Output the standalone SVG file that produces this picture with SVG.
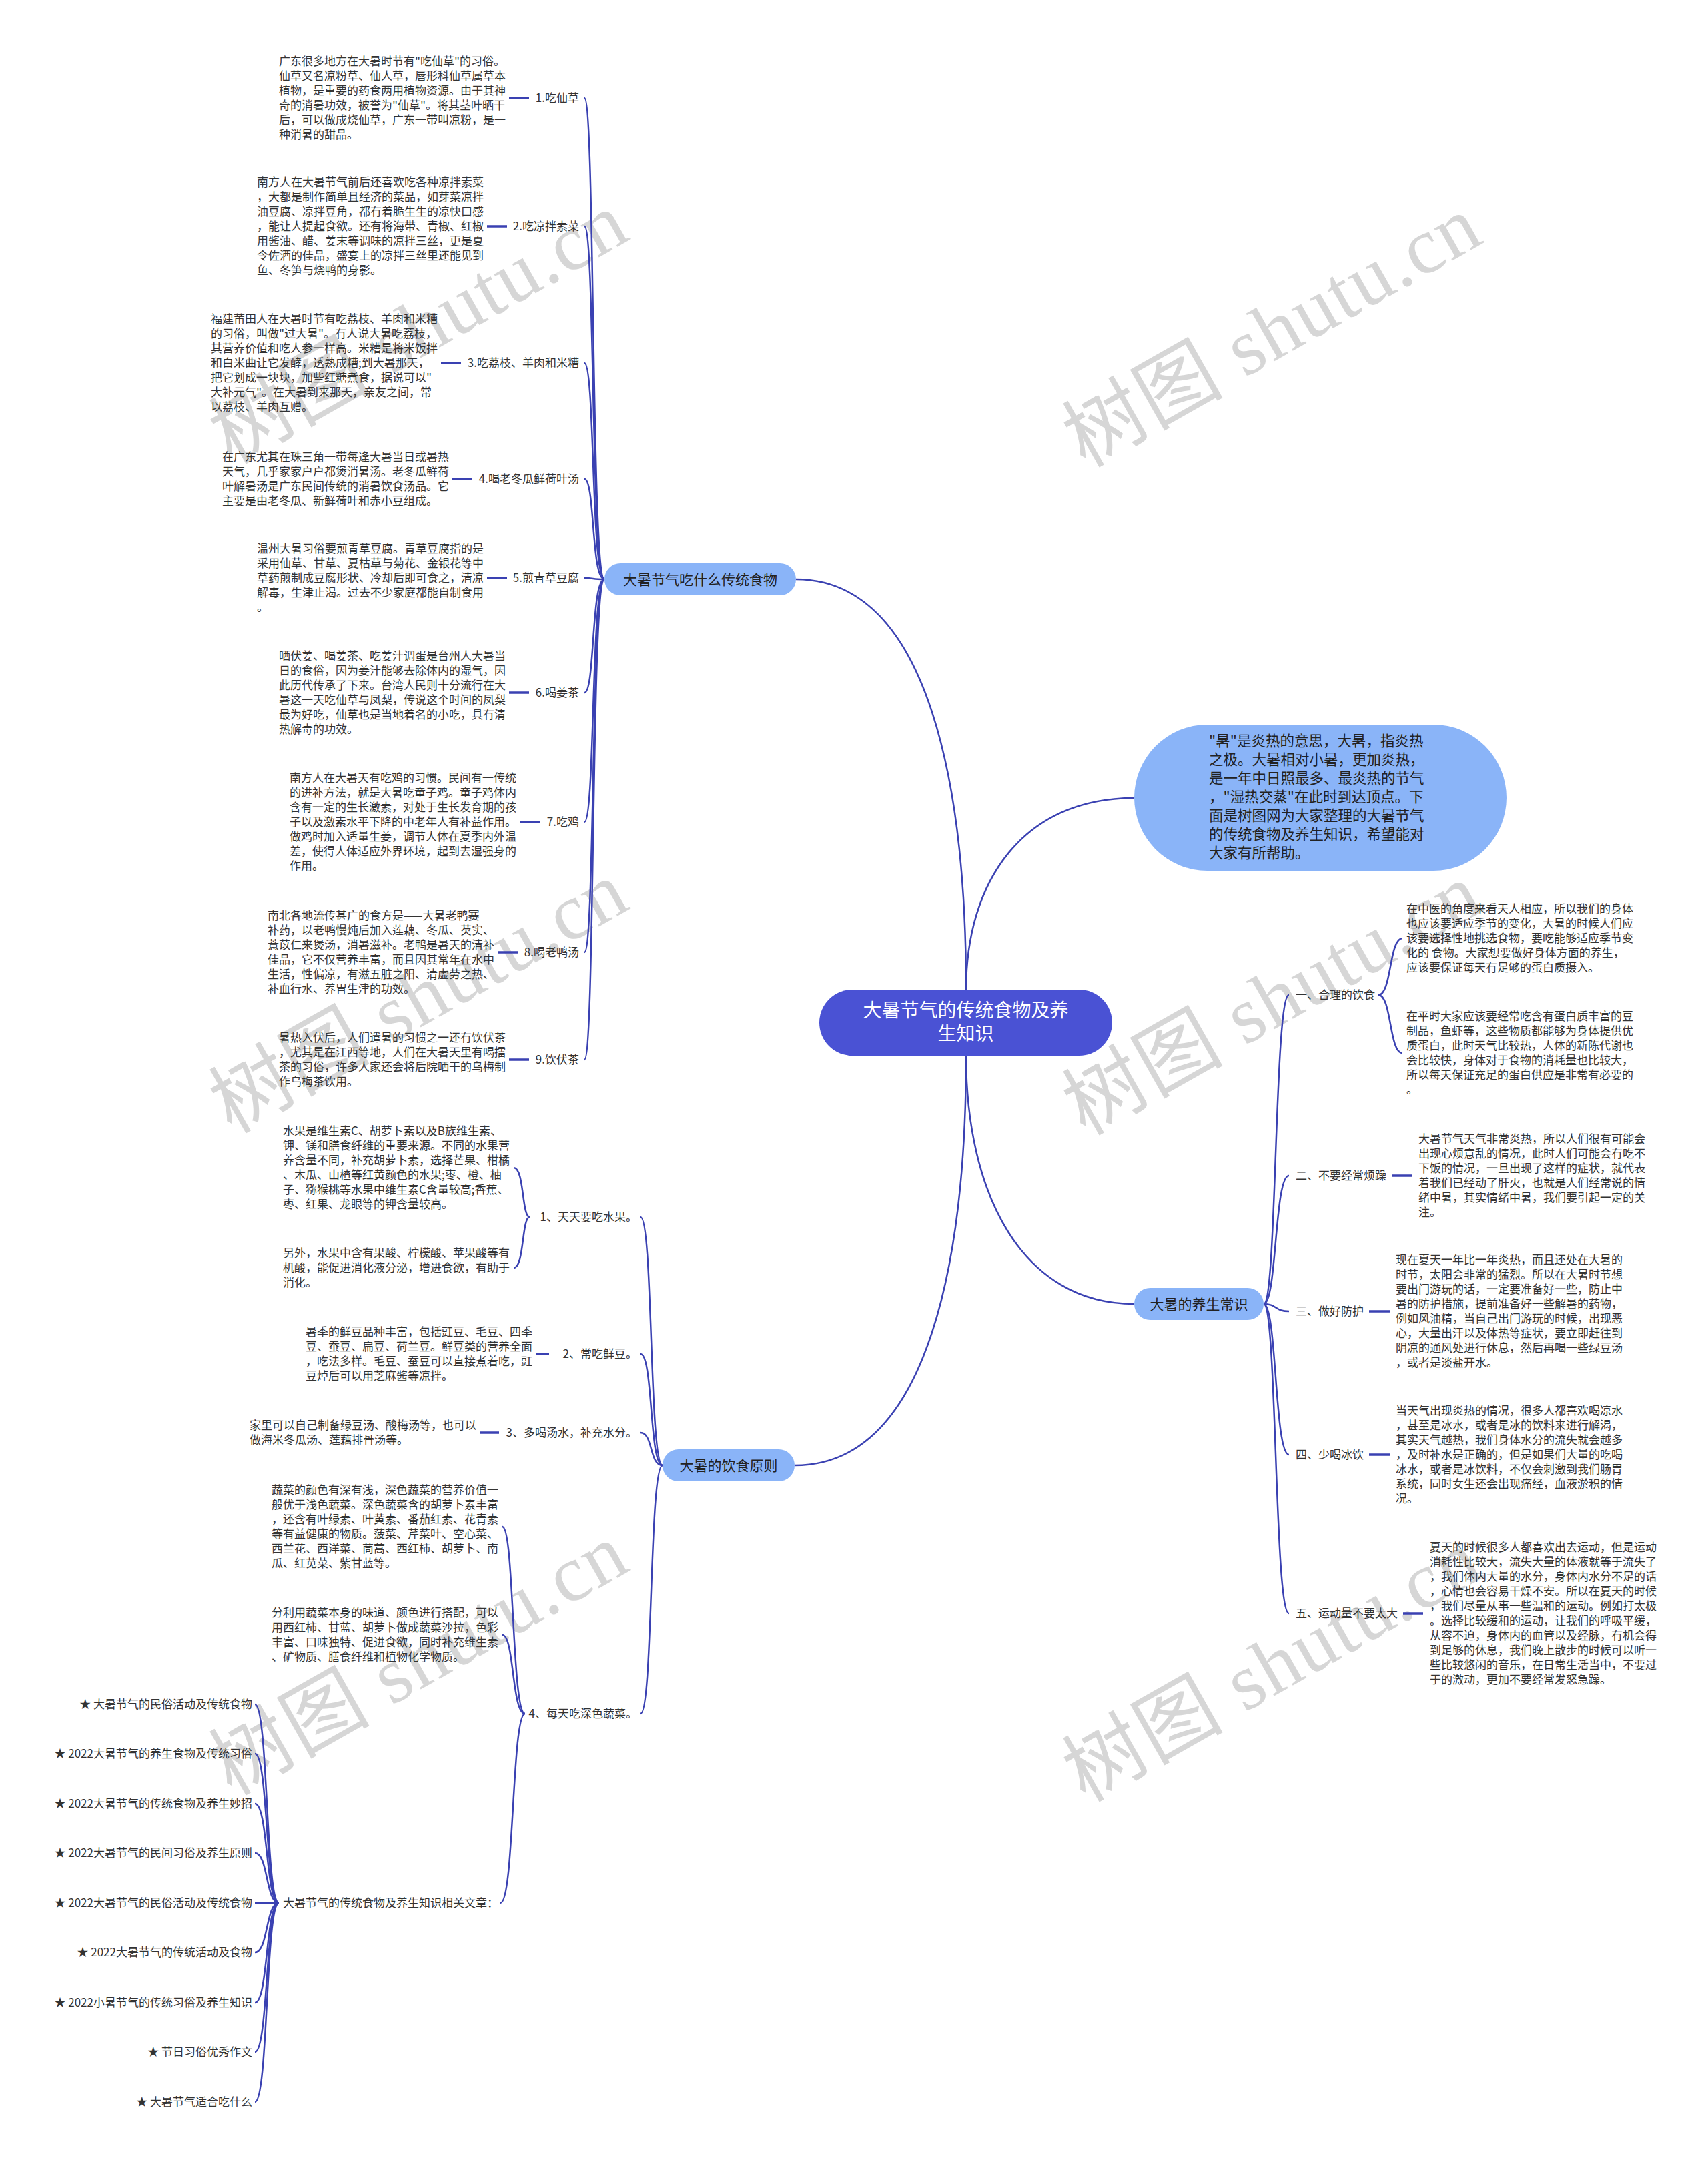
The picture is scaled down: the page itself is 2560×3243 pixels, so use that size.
<svg xmlns="http://www.w3.org/2000/svg" width="2560" height="3243" viewBox="0 0 2560 3243">
<style>
text{font-family:"Noto Sans CJK SC","Noto Sans",sans-serif;fill:#333}
.t{font-size:17px}
.l{font-size:17px}
.le{font-size:17px;text-anchor:end}
.c{fill:none;stroke:#3a41b2;stroke-width:2.5}
.s{stroke:#3a41b2;stroke-width:3.5}
.bn{fill:#8ab4f8}
.bt{font-size:21px;text-anchor:middle;fill:#222}
.wm{font-family:"Liberation Serif","Noto Sans CJK SC",serif;font-size:120px;fill:#d6d6d6}
</style>
<rect width="2560" height="3243" fill="#fff"/>
<g id="watermarks">
<text class="wm" transform="translate(347 697) rotate(-29.5)" textLength="690" lengthAdjust="spacing">树图 shutu.cn</text>
<text class="wm" transform="translate(1626 702) rotate(-29.5)" textLength="690" lengthAdjust="spacing">树图 shutu.cn</text>
<text class="wm" transform="translate(347 1700) rotate(-29.5)" textLength="690" lengthAdjust="spacing">树图 shutu.cn</text>
<text class="wm" transform="translate(1626 1703) rotate(-29.5)" textLength="690" lengthAdjust="spacing">树图 shutu.cn</text>
<text class="wm" transform="translate(347 2692) rotate(-29.5)" textLength="690" lengthAdjust="spacing">树图 shutu.cn</text>
<text class="wm" transform="translate(1626 2702) rotate(-29.5)" textLength="690" lengthAdjust="spacing">树图 shutu.cn</text>
</g>
<g id="connectors">
<path class="c" d="M1448 1483C1448 1194 1397 868 1193 868"/>
<path class="c" d="M1448 1483C1448 1322 1532 1196 1700 1196"/>
<path class="c" d="M1448 1582C1448 1871 1397 2196 1191 2196"/>
<path class="c" d="M1448 1582C1448 1790 1532 1954 1700 1954"/>
<path class="c" d="M906 868C886 868 892 147 876 147"/>
<path class="c" d="M906 868C886 868 892 339 876 339"/>
<path class="c" d="M906 868C886 868 892 544 876 544"/>
<path class="c" d="M906 868C886 868 892 718 876 718"/>
<path class="c" d="M906 868C886 868 892 866 876 866"/>
<path class="c" d="M906 868C886 868 892 1038 876 1038"/>
<path class="c" d="M906 868C886 868 892 1232 876 1232"/>
<path class="c" d="M906 868C886 868 892 1427 876 1427"/>
<path class="c" d="M906 868C886 868 892 1588 876 1588"/>
<line class="s" x1="763" y1="147" x2="793" y2="147"/>
<line class="s" x1="730" y1="339" x2="760" y2="339"/>
<line class="s" x1="661" y1="544" x2="691" y2="544"/>
<line class="s" x1="678" y1="718" x2="708" y2="718"/>
<line class="s" x1="730" y1="866" x2="760" y2="866"/>
<line class="s" x1="763" y1="1038" x2="793" y2="1038"/>
<line class="s" x1="779" y1="1232" x2="809" y2="1232"/>
<line class="s" x1="746" y1="1427" x2="776" y2="1427"/>
<line class="s" x1="763" y1="1588" x2="793" y2="1588"/>
<path class="c" d="M993 2196C973 2196 979 1824 960 1824"/>
<path class="c" d="M993 2196C973 2196 979 2029 960 2029"/>
<path class="c" d="M993 2196C973 2196 979 2147 960 2147"/>
<path class="c" d="M993 2196C973 2196 979 2568 960 2568"/>
<path class="c" d="M794 1824C782 1824 786 1750 770 1750"/>
<path class="c" d="M794 1824C782 1824 786 1900 770 1900"/>
<line class="s" x1="803" y1="2029" x2="823" y2="2029"/>
<line class="s" x1="719" y1="2147" x2="748" y2="2147"/>
<path class="c" d="M787 2568C767 2568 771 2288 753 2288"/>
<path class="c" d="M787 2568C767 2568 771 2450 753 2450"/>
<path class="c" d="M787 2568C767 2568 771 2852 750 2852"/>
<path class="c" d="M418 2852C398 2852 402 2554 382 2554"/>
<path class="c" d="M418 2852C398 2852 402 2628 382 2628"/>
<path class="c" d="M418 2852C398 2852 402 2703 382 2703"/>
<path class="c" d="M418 2852C398 2852 402 2777 382 2777"/>
<path class="c" d="M418 2852C398 2852 402 2852 382 2852"/>
<path class="c" d="M418 2852C398 2852 402 2926 382 2926"/>
<path class="c" d="M418 2852C398 2852 402 3001 382 3001"/>
<path class="c" d="M418 2852C398 2852 402 3075 382 3075"/>
<path class="c" d="M418 2852C398 2852 402 3150 382 3150"/>
<path class="c" d="M1894 1954C1914 1954 1910 1491 1932 1491"/>
<path class="c" d="M1894 1954C1914 1954 1910 1762 1932 1762"/>
<path class="c" d="M1894 1954C1914 1954 1910 1965 1932 1965"/>
<path class="c" d="M1894 1954C1914 1954 1910 2180 1932 2180"/>
<path class="c" d="M1894 1954C1914 1954 1910 2418 1932 2418"/>
<path class="c" d="M2066 1491C2086 1491 2082 1406 2102 1406"/>
<path class="c" d="M2066 1491C2086 1491 2082 1578 2102 1578"/>
<line class="s" x1="2087" y1="1762" x2="2117" y2="1762"/>
<line class="s" x1="2052" y1="1965" x2="2083" y2="1965"/>
<line class="s" x1="2052" y1="2180" x2="2083" y2="2180"/>
<line class="s" x1="2103" y1="2418" x2="2133" y2="2418"/>
</g>
<g id="center">
<rect x="1228" y="1483" width="439" height="99" rx="49.5" fill="#4a52d4"/>
<text x="1447.5" y="1524" style="font-size:28px;fill:#fff;text-anchor:middle">大暑节气的传统食物及养</text>
<text x="1447.5" y="1559" style="font-size:28px;fill:#fff;text-anchor:middle">生知识</text>
</g>
<g id="intro">
<rect class="bn" x="1700" y="1086" width="558" height="219" rx="109.5"/>
<text x="1812" y="1118" style="font-size:21.5px;fill:#222"><tspan x="1812">"暑"是炎热的意思，大暑，指炎热</tspan><tspan x="1812" dy="28">之极。大暑相对小暑，更加炎热，</tspan><tspan x="1812" dy="28">是一年中日照最多、最炎热的节气</tspan><tspan x="1812" dy="28">，"湿热交蒸"在此时到达顶点。下</tspan><tspan x="1812" dy="28">面是树图网为大家整理的大暑节气</tspan><tspan x="1812" dy="28">的传统食物及养生知识，希望能对</tspan><tspan x="1812" dy="28">大家有所帮助。</tspan></text>
</g>
<g id="b1">
<rect class="bn" x="906" y="844" width="287" height="48" rx="24"/>
<text class="bt" x="1049.5" y="875.5">大暑节气吃什么传统食物</text>
</g>
<g id="b1-1">
<text class="le" x="868" y="153">1.吃仙草</text>
<text class="t" x="418" y="98"><tspan x="418">广东很多地方在大暑时节有"吃仙草"的习俗。</tspan><tspan x="418" dy="22">仙草又名凉粉草、仙人草，唇形科仙草属草本</tspan><tspan x="418" dy="22">植物，是重要的药食两用植物资源。由于其神</tspan><tspan x="418" dy="22">奇的消暑功效，被誉为"仙草"。将其茎叶晒干</tspan><tspan x="418" dy="22">后，可以做成烧仙草，广东一带叫凉粉，是一</tspan><tspan x="418" dy="22">种消暑的甜品。</tspan></text>
</g>
<g id="b1-2">
<text class="le" x="868" y="345">2.吃凉拌素菜</text>
<text class="t" x="385" y="279"><tspan x="385">南方人在大暑节气前后还喜欢吃各种凉拌素菜</tspan><tspan x="385" dy="22">，大都是制作简单且经济的菜品，如芽菜凉拌</tspan><tspan x="385" dy="22">油豆腐、凉拌豆角，都有着脆生生的凉快口感</tspan><tspan x="385" dy="22">，能让人提起食欲。还有将海带、青椒、红椒</tspan><tspan x="385" dy="22">用酱油、醋、姜末等调味的凉拌三丝，更是夏</tspan><tspan x="385" dy="22">令佐酒的佳品，盛宴上的凉拌三丝里还能见到</tspan><tspan x="385" dy="22">鱼、冬笋与烧鸭的身影。</tspan></text>
</g>
<g id="b1-3">
<text class="le" x="868" y="550">3.吃荔枝、羊肉和米糟</text>
<text class="t" x="316" y="484"><tspan x="316">福建莆田人在大暑时节有吃荔枝、羊肉和米糟</tspan><tspan x="316" dy="22">的习俗，叫做"过大暑"。有人说大暑吃荔枝，</tspan><tspan x="316" dy="22">其营养价值和吃人参一样高。米糟是将米饭拌</tspan><tspan x="316" dy="22">和白米曲让它发酵，透熟成糟;到大暑那天，</tspan><tspan x="316" dy="22">把它划成一块块，加些红糖煮食，据说可以"</tspan><tspan x="316" dy="22">大补元气"。在大暑到来那天，亲友之间，常</tspan><tspan x="316" dy="22">以荔枝、羊肉互赠。</tspan></text>
</g>
<g id="b1-4">
<text class="le" x="868" y="724">4.喝老冬瓜鲜荷叶汤</text>
<text class="t" x="333" y="691"><tspan x="333">在广东尤其在珠三角一带每逢大暑当日或暑热</tspan><tspan x="333" dy="22">天气，几乎家家户户都煲消暑汤。老冬瓜鲜荷</tspan><tspan x="333" dy="22">叶解暑汤是广东民间传统的消暑饮食汤品。它</tspan><tspan x="333" dy="22">主要是由老冬瓜、新鲜荷叶和赤小豆组成。</tspan></text>
</g>
<g id="b1-5">
<text class="le" x="868" y="872">5.煎青草豆腐</text>
<text class="t" x="385" y="828"><tspan x="385">温州大暑习俗要煎青草豆腐。青草豆腐指的是</tspan><tspan x="385" dy="22">采用仙草、甘草、夏枯草与菊花、金银花等中</tspan><tspan x="385" dy="22">草药煎制成豆腐形状、冷却后即可食之，清凉</tspan><tspan x="385" dy="22">解毒，生津止渴。过去不少家庭都能自制食用</tspan><tspan x="385" dy="22">。</tspan></text>
</g>
<g id="b1-6">
<text class="le" x="868" y="1044">6.喝姜茶</text>
<text class="t" x="418" y="989"><tspan x="418">晒伏姜、喝姜茶、吃姜汁调蛋是台州人大暑当</tspan><tspan x="418" dy="22">日的食俗，因为姜汁能够去除体内的湿气，因</tspan><tspan x="418" dy="22">此历代传承了下来。台湾人民则十分流行在大</tspan><tspan x="418" dy="22">暑这一天吃仙草与凤梨，传说这个时间的凤梨</tspan><tspan x="418" dy="22">最为好吃，仙草也是当地着名的小吃，具有清</tspan><tspan x="418" dy="22">热解毒的功效。</tspan></text>
</g>
<g id="b1-7">
<text class="le" x="868" y="1238">7.吃鸡</text>
<text class="t" x="434" y="1172"><tspan x="434">南方人在大暑天有吃鸡的习惯。民间有一传统</tspan><tspan x="434" dy="22">的进补方法，就是大暑吃童子鸡。童子鸡体内</tspan><tspan x="434" dy="22">含有一定的生长激素，对处于生长发育期的孩</tspan><tspan x="434" dy="22">子以及激素水平下降的中老年人有补益作用。</tspan><tspan x="434" dy="22">做鸡时加入适量生姜，调节人体在夏季内外温</tspan><tspan x="434" dy="22">差，使得人体适应外界环境，起到去湿强身的</tspan><tspan x="434" dy="22">作用。</tspan></text>
</g>
<g id="b1-8">
<text class="le" x="868" y="1433">8.喝老鸭汤</text>
<text class="t" x="401" y="1378"><tspan x="401">南北各地流传甚广的食方是——大暑老鸭赛</tspan><tspan x="401" dy="22">补药，以老鸭慢炖后加入莲藕、冬瓜、芡实、</tspan><tspan x="401" dy="22">薏苡仁来煲汤，消暑滋补。老鸭是暑天的清补</tspan><tspan x="401" dy="22">佳品，它不仅营养丰富，而且因其常年在水中</tspan><tspan x="401" dy="22">生活，性偏凉，有滋五脏之阳、清虚劳之热、</tspan><tspan x="401" dy="22">补血行水、养胃生津的功效。</tspan></text>
</g>
<g id="b1-9">
<text class="le" x="868" y="1594">9.饮伏茶</text>
<text class="t" x="418" y="1561"><tspan x="418">暑热入伏后，人们遣暑的习惯之一还有饮伏茶</tspan><tspan x="418" dy="22">，尤其是在江西等地，人们在大暑天里有喝擂</tspan><tspan x="418" dy="22">茶的习俗，许多人家还会将后院晒干的乌梅制</tspan><tspan x="418" dy="22">作乌梅茶饮用。</tspan></text>
</g>
<g id="b3">
<rect class="bn" x="993" y="2172" width="198" height="48" rx="24"/>
<text class="bt" x="1092" y="2203.5">大暑的饮食原则</text>
</g>
<g id="b3-1">
<text class="le" x="955" y="1830">1、天天要吃水果。</text>
<text class="t" x="424" y="1701"><tspan x="424">水果是维生素C、胡萝卜素以及B族维生素、</tspan><tspan x="424" dy="22">钾、镁和膳食纤维的重要来源。不同的水果营</tspan><tspan x="424" dy="22">养含量不同，补充胡萝卜素，选择芒果、柑橘</tspan><tspan x="424" dy="22">、木瓜、山楂等红黄颜色的水果;枣、橙、柚</tspan><tspan x="424" dy="22">子、猕猴桃等水果中维生素C含量较高;香蕉、</tspan><tspan x="424" dy="22">枣、红果、龙眼等的钾含量较高。</tspan></text>
<text class="t" x="424" y="1884"><tspan x="424">另外，水果中含有果酸、柠檬酸、苹果酸等有</tspan><tspan x="424" dy="22">机酸，能促进消化液分泌，增进食欲，有助于</tspan><tspan x="424" dy="22">消化。</tspan></text>
</g>
<g id="b3-2">
<text class="le" x="955" y="2035">2、常吃鲜豆。</text>
<text class="t" x="458" y="2002"><tspan x="458">暑季的鲜豆品种丰富，包括豇豆、毛豆、四季</tspan><tspan x="458" dy="22">豆、蚕豆、扁豆、荷兰豆。鲜豆类的营养全面</tspan><tspan x="458" dy="22">，吃法多样。毛豆、蚕豆可以直接煮着吃，豇</tspan><tspan x="458" dy="22">豆焯后可以用芝麻酱等凉拌。</tspan></text>
</g>
<g id="b3-3">
<text class="le" x="955" y="2153">3、多喝汤水，补充水分。</text>
<text class="t" x="374" y="2142"><tspan x="374">家里可以自己制备绿豆汤、酸梅汤等，也可以</tspan><tspan x="374" dy="22">做海米冬瓜汤、莲藕排骨汤等。</tspan></text>
</g>
<g id="b3-4">
<text class="le" x="955" y="2574">4、每天吃深色蔬菜。</text>
<text class="t" x="407" y="2239"><tspan x="407">蔬菜的颜色有深有浅，深色蔬菜的营养价值一</tspan><tspan x="407" dy="22">般优于浅色蔬菜。深色蔬菜含的胡萝卜素丰富</tspan><tspan x="407" dy="22">，还含有叶绿素、叶黄素、番茄红素、花青素</tspan><tspan x="407" dy="22">等有益健康的物质。菠菜、芹菜叶、空心菜、</tspan><tspan x="407" dy="22">西兰花、西洋菜、茼蒿、西红柿、胡萝卜、南</tspan><tspan x="407" dy="22">瓜、红苋菜、紫甘蓝等。</tspan></text>
<text class="t" x="407" y="2423"><tspan x="407">分利用蔬菜本身的味道、颜色进行搭配，可以</tspan><tspan x="407" dy="22">用西红柿、甘蓝、胡萝卜做成蔬菜沙拉，色彩</tspan><tspan x="407" dy="22">丰富、口味独特、促进食欲，同时补充维生素</tspan><tspan x="407" dy="22">、矿物质、膳食纤维和植物化学物质。</tspan></text>
</g>
<g id="related">
<text class="l" x="424" y="2858">大暑节气的传统食物及养生知识相关文章：</text>
<text class="le" x="378" y="2560">★ 大暑节气的民俗活动及传统食物</text>
<text class="le" x="378" y="2634">★ 2022大暑节气的养生食物及传统习俗</text>
<text class="le" x="378" y="2709">★ 2022大暑节气的传统食物及养生妙招</text>
<text class="le" x="378" y="2783">★ 2022大暑节气的民间习俗及养生原则</text>
<text class="le" x="378" y="2858">★ 2022大暑节气的民俗活动及传统食物</text>
<text class="le" x="378" y="2932">★ 2022大暑节气的传统活动及食物</text>
<text class="le" x="378" y="3007">★ 2022小暑节气的传统习俗及养生知识</text>
<text class="le" x="378" y="3081">★ 节日习俗优秀作文</text>
<text class="le" x="378" y="3156">★ 大暑节气适合吃什么</text>
</g>
<g id="b4">
<rect class="bn" x="1700" y="1930" width="194" height="48" rx="24"/>
<text class="bt" x="1797" y="1961.5">大暑的养生常识</text>
</g>
<g id="b4-1">
<text class="l" x="1942" y="1497">一、合理的饮食</text>
<text class="t" x="2108" y="1368"><tspan x="2108">在中医的角度来看天人相应，所以我们的身体</tspan><tspan x="2108" dy="22">也应该要适应季节的变化，大暑的时候人们应</tspan><tspan x="2108" dy="22">该要选择性地挑选食物，要吃能够适应季节变</tspan><tspan x="2108" dy="22">化的 食物。大家想要做好身体方面的养生，</tspan><tspan x="2108" dy="22">应该要保证每天有足够的蛋白质摄入。</tspan></text>
<text class="t" x="2108" y="1529"><tspan x="2108">在平时大家应该要经常吃含有蛋白质丰富的豆</tspan><tspan x="2108" dy="22">制品，鱼虾等，这些物质都能够为身体提供优</tspan><tspan x="2108" dy="22">质蛋白，此时天气比较热，人体的新陈代谢也</tspan><tspan x="2108" dy="22">会比较快，身体对于食物的消耗量也比较大，</tspan><tspan x="2108" dy="22">所以每天保证充足的蛋白供应是非常有必要的</tspan><tspan x="2108" dy="22">。</tspan></text>
</g>
<g id="b4-2">
<text class="l" x="1942" y="1768">二、不要经常烦躁</text>
<text class="t" x="2126" y="1713"><tspan x="2126">大暑节气天气非常炎热，所以人们很有可能会</tspan><tspan x="2126" dy="22">出现心烦意乱的情况，此时人们可能会有吃不</tspan><tspan x="2126" dy="22">下饭的情况，一旦出现了这样的症状，就代表</tspan><tspan x="2126" dy="22">着我们已经动了肝火，也就是人们经常说的情</tspan><tspan x="2126" dy="22">绪中暑，其实情绪中暑，我们要引起一定的关</tspan><tspan x="2126" dy="22">注。</tspan></text>
</g>
<g id="b4-3">
<text class="l" x="1942" y="1971">三、做好防护</text>
<text class="t" x="2092" y="1894"><tspan x="2092">现在夏天一年比一年炎热，而且还处在大暑的</tspan><tspan x="2092" dy="22">时节，太阳会非常的猛烈。所以在大暑时节想</tspan><tspan x="2092" dy="22">要出门游玩的话，一定要准备好一些，防止中</tspan><tspan x="2092" dy="22">暑的防护措施，提前准备好一些解暑的药物，</tspan><tspan x="2092" dy="22">例如风油精，当自己出门游玩的时候，出现恶</tspan><tspan x="2092" dy="22">心，大量出汗以及体热等症状，要立即赶往到</tspan><tspan x="2092" dy="22">阴凉的通风处进行休息，然后再喝一些绿豆汤</tspan><tspan x="2092" dy="22">，或者是淡盐开水。</tspan></text>
</g>
<g id="b4-4">
<text class="l" x="1942" y="2186">四、少喝冰饮</text>
<text class="t" x="2092" y="2120"><tspan x="2092">当天气出现炎热的情况，很多人都喜欢喝凉水</tspan><tspan x="2092" dy="22">，甚至是冰水，或者是冰的饮料来进行解渴，</tspan><tspan x="2092" dy="22">其实天气越热，我们身体水分的流失就会越多</tspan><tspan x="2092" dy="22">，及时补水是正确的，但是如果们大量的吃喝</tspan><tspan x="2092" dy="22">冰水，或者是冰饮料，不仅会刺激到我们肠胃</tspan><tspan x="2092" dy="22">系统，同时女生还会出现痛经，血液淤积的情</tspan><tspan x="2092" dy="22">况。</tspan></text>
</g>
<g id="b4-5">
<text class="l" x="1942" y="2424">五、运动量不要太大</text>
<text class="t" x="2143" y="2325"><tspan x="2143">夏天的时候很多人都喜欢出去运动，但是运动</tspan><tspan x="2143" dy="22">消耗性比较大，流失大量的体液就等于流失了</tspan><tspan x="2143" dy="22">，我们体内大量的水分，身体内水分不足的话</tspan><tspan x="2143" dy="22">，心情也会容易干燥不安。所以在夏天的时候</tspan><tspan x="2143" dy="22">，我们尽量从事一些温和的运动。例如打太极</tspan><tspan x="2143" dy="22">。选择比较缓和的运动，让我们的呼吸平缓，</tspan><tspan x="2143" dy="22">从容不迫，身体内的血管以及经脉，有机会得</tspan><tspan x="2143" dy="22">到足够的休息，我们晚上散步的时候可以听一</tspan><tspan x="2143" dy="22">些比较悠闲的音乐，在日常生活当中，不要过</tspan><tspan x="2143" dy="22">于的激动，更加不要经常发怒急躁。</tspan></text>
</g>
</svg>
